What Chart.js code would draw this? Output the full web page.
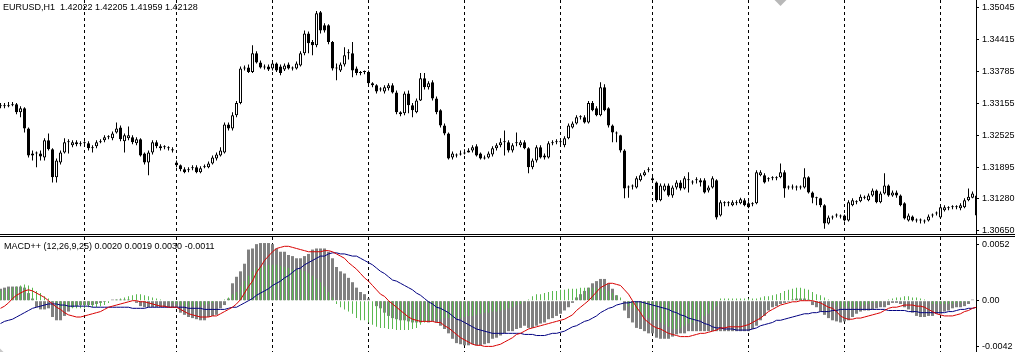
<!DOCTYPE html>
<html><head><meta charset="utf-8">
<script src="https://cdn.jsdelivr.net/npm/chart.js@4.4.1/dist/chart.umd.min.js"></script>
<style>
html,body{margin:0;padding:0;background:#fff;}
#wrap{position:relative;width:1015px;height:352px;overflow:hidden;background:#fff;}
.pane{position:absolute;left:0;width:1015px;}
.pane canvas{display:block;}
.sep{position:absolute;left:0;width:1015px;height:1px;background:#000;}
.lbl{position:absolute;font-family:"Liberation Sans",Arial,sans-serif;font-size:9px;line-height:9px;color:#000;white-space:pre;}
</style></head><body>
<div id="wrap">
 <div class="pane" style="top:0;height:234px"><canvas id="priceCanvas" width="1015" height="234"></canvas></div>
 <div class="sep" style="top:234px"></div>
 <div class="sep" style="top:236px"></div>
 <div class="pane" style="top:237px;height:115px"><canvas id="macdCanvas" width="1015" height="115"></canvas></div>
 <div class="lbl" style="left:3px;top:3px">EURUSD,H1  1.42022 1.42205 1.41959 1.42128</div>
 <div class="lbl" style="left:4px;top:242px">MACD++ (12,26,9,25) 0.0020 0.0019 0.0030 -0.0011</div>
</div>
<script>
// ---- EURUSD H1 candles (bar 0 = leftmost) ----
const open = [
1.3310,1.3312,1.3310,1.3312,1.3314,1.3298,1.3306,1.3266,1.3213,1.3217,
1.3217,1.3209,1.3243,1.3225,1.3170,1.3199,1.3219,1.3239,1.3233,1.3239,
1.3235,1.3237,1.3237,1.3227,1.3231,1.3239,1.3243,1.3249,1.3247,1.3258,
1.3268,1.3241,1.3247,1.3249,1.3237,1.3245,1.3217,1.3199,1.3219,1.3239,
1.3231,1.3229,1.3227,1.3225,1.3199,1.3194,1.3186,1.3184,1.3188,1.3190,
1.3180,1.3190,1.3190,1.3197,1.3207,1.3213,1.3219,1.3274,1.3266,1.3292,
1.3316,1.3384,1.3386,1.3377,1.3414,1.3396,1.3386,1.3388,1.3384,1.3394,
1.3388,1.3382,1.3392,1.3384,1.3384,1.3390,1.3414,1.3453,1.3436,1.3430,
1.3495,1.3469,1.3469,1.3436,1.3384,1.3380,1.3392,1.3414,1.3414,1.3384,
1.3375,1.3377,1.3377,1.3355,1.3351,1.3343,1.3339,1.3345,1.3351,1.3337,
1.3298,1.3296,1.3335,1.3312,1.3298,1.3321,1.3365,1.3347,1.3357,1.3325,
1.3302,1.3272,1.3256,1.3209,1.3213,1.3215,1.3217,1.3219,1.3223,1.3231,
1.3217,1.3207,1.3209,1.3215,1.3227,1.3233,1.3239,1.3239,1.3223,1.3237,
1.3233,1.3239,1.3227,1.3190,1.3203,1.3229,1.3213,1.3209,1.3237,1.3239,
1.3239,1.3233,1.3247,1.3268,1.3276,1.3288,1.3288,1.3278,1.3316,1.3306,
1.3292,1.3347,1.3306,1.3272,1.3256,1.3253,1.3223,1.3150,1.3152,1.3150,
1.3164,1.3174,1.3184,1.3168,1.3160,1.3125,1.3144,1.3154,1.3134,1.3150,
1.3160,1.3148,1.3164,1.3160,1.3164,1.3164,1.3164,1.3144,1.3150,1.3164,
1.3095,1.3119,1.3119,1.3115,1.3119,1.3119,1.3125,1.3119,1.3117,1.3119,
1.3174,1.3174,1.3166,1.3168,1.3168,1.3170,1.3180,1.3150,1.3150,1.3150,
1.3150,1.3150,1.3170,1.3140,1.3129,1.3129,1.3115,1.3079,1.3091,1.3095,
1.3093,1.3095,1.3085,1.3115,1.3121,1.3123,1.3130,1.3125,1.3134,1.3144,
1.3121,1.3138,1.3154,1.3134,1.3140,1.3134,1.3119,1.3085,1.3093,1.3085,
1.3085,1.3083,1.3085,1.3095,1.3099,1.3091,1.3105,1.3109,1.3111,1.3111,
1.3109,1.3111,1.3125,1.3130,1.3134];
const high = [
1.3316,1.3316,1.3318,1.3318,1.3316,1.3310,1.3308,1.3268,1.3223,1.3221,
1.3223,1.3247,1.3256,1.3227,1.3207,1.3223,1.3247,1.3245,1.3243,1.3243,
1.3241,1.3241,1.3241,1.3233,1.3243,1.3245,1.3253,1.3253,1.3260,1.3278,
1.3272,1.3256,1.3270,1.3253,1.3249,1.3247,1.3219,1.3223,1.3243,1.3243,
1.3235,1.3233,1.3231,1.3229,1.3203,1.3195,1.3190,1.3190,1.3194,1.3194,
1.3192,1.3195,1.3201,1.3213,1.3219,1.3229,1.3278,1.3278,1.3298,1.3320,
1.3388,1.3390,1.3392,1.3430,1.3418,1.3400,1.3392,1.3392,1.3398,1.3396,
1.3392,1.3394,1.3396,1.3388,1.3398,1.3418,1.3459,1.3457,1.3440,1.3497,
1.3497,1.3473,1.3471,1.3438,1.3394,1.3396,1.3426,1.3422,1.3436,1.3388,
1.3379,1.3380,1.3380,1.3357,1.3353,1.3347,1.3351,1.3355,1.3355,1.3341,
1.3300,1.3339,1.3341,1.3316,1.3325,1.3375,1.3375,1.3359,1.3361,1.3329,
1.3304,1.3276,1.3258,1.3221,1.3217,1.3223,1.3225,1.3227,1.3233,1.3235,
1.3219,1.3213,1.3221,1.3231,1.3237,1.3247,1.3262,1.3243,1.3237,1.3258,
1.3243,1.3243,1.3229,1.3207,1.3233,1.3233,1.3217,1.3241,1.3243,1.3245,
1.3245,1.3251,1.3276,1.3280,1.3292,1.3292,1.3292,1.3320,1.3320,1.3310,
1.3357,1.3353,1.3308,1.3274,1.3260,1.3254,1.3225,1.3154,1.3156,1.3172,
1.3178,1.3184,1.3190,1.3172,1.3162,1.3158,1.3158,1.3158,1.3154,1.3164,
1.3164,1.3172,1.3180,1.3164,1.3170,1.3168,1.3168,1.3154,1.3172,1.3166,
1.3125,1.3123,1.3123,1.3125,1.3125,1.3130,1.3129,1.3123,1.3121,1.3184,
1.3184,1.3178,1.3170,1.3172,1.3172,1.3197,1.3184,1.3154,1.3156,1.3154,
1.3154,1.3188,1.3172,1.3142,1.3132,1.3130,1.3117,1.3095,1.3095,1.3099,
1.3097,1.3097,1.3125,1.3129,1.3125,1.3136,1.3134,1.3138,1.3148,1.3146,
1.3142,1.3178,1.3156,1.3144,1.3144,1.3136,1.3121,1.3099,1.3095,1.3089,
1.3089,1.3087,1.3097,1.3099,1.3103,1.3115,1.3115,1.3113,1.3115,1.3115,
1.3119,1.3129,1.3148,1.3142,1.3140];
const low = [
1.3306,1.3306,1.3308,1.3310,1.3294,1.3288,1.3258,1.3209,1.3203,1.3190,
1.3203,1.3203,1.3223,1.3160,1.3160,1.3195,1.3217,1.3217,1.3229,1.3231,
1.3231,1.3233,1.3223,1.3219,1.3227,1.3237,1.3239,1.3245,1.3243,1.3256,
1.3241,1.3219,1.3243,1.3235,1.3233,1.3211,1.3195,1.3174,1.3215,1.3227,
1.3223,1.3225,1.3223,1.3219,1.3190,1.3182,1.3178,1.3180,1.3184,1.3178,
1.3178,1.3188,1.3188,1.3195,1.3203,1.3211,1.3217,1.3262,1.3262,1.3288,
1.3314,1.3380,1.3375,1.3375,1.3394,1.3384,1.3382,1.3379,1.3380,1.3377,
1.3371,1.3379,1.3382,1.3380,1.3382,1.3388,1.3410,1.3414,1.3410,1.3426,
1.3453,1.3455,1.3432,1.3380,1.3361,1.3377,1.3388,1.3402,1.3367,1.3371,
1.3371,1.3373,1.3351,1.3347,1.3335,1.3339,1.3335,1.3341,1.3335,1.3294,
1.3290,1.3292,1.3296,1.3288,1.3296,1.3320,1.3343,1.3343,1.3321,1.3294,
1.3268,1.3253,1.3205,1.3205,1.3209,1.3213,1.3215,1.3219,1.3219,1.3211,
1.3205,1.3205,1.3207,1.3211,1.3223,1.3229,1.3213,1.3219,1.3219,1.3231,
1.3229,1.3225,1.3178,1.3186,1.3199,1.3207,1.3205,1.3207,1.3233,1.3235,
1.3233,1.3229,1.3245,1.3266,1.3274,1.3284,1.3276,1.3276,1.3300,1.3290,
1.3290,1.3300,1.3268,1.3239,1.3239,1.3219,1.3129,1.3130,1.3146,1.3148,
1.3162,1.3172,1.3180,1.3160,1.3121,1.3123,1.3142,1.3132,1.3130,1.3146,
1.3144,1.3146,1.3140,1.3156,1.3158,1.3152,1.3138,1.3140,1.3148,1.3087,
1.3093,1.3113,1.3113,1.3113,1.3115,1.3117,1.3113,1.3109,1.3113,1.3117,
1.3172,1.3158,1.3162,1.3164,1.3164,1.3168,1.3130,1.3146,1.3146,1.3144,
1.3146,1.3148,1.3138,1.3119,1.3115,1.3111,1.3069,1.3077,1.3087,1.3091,
1.3089,1.3083,1.3083,1.3113,1.3117,1.3121,1.3127,1.3123,1.3132,1.3119,
1.3119,1.3136,1.3132,1.3132,1.3130,1.3113,1.3087,1.3083,1.3083,1.3081,
1.3079,1.3079,1.3083,1.3091,1.3095,1.3089,1.3103,1.3105,1.3107,1.3107,
1.3105,1.3109,1.3123,1.3129,1.3081];
const close = [
1.3312,1.3310,1.3312,1.3314,1.3298,1.3306,1.3266,1.3213,1.3217,1.3217,
1.3211,1.3243,1.3225,1.3170,1.3203,1.3219,1.3239,1.3239,1.3239,1.3235,
1.3237,1.3237,1.3227,1.3229,1.3239,1.3241,1.3249,1.3249,1.3256,1.3266,
1.3245,1.3253,1.3253,1.3239,1.3245,1.3213,1.3199,1.3219,1.3239,1.3231,
1.3227,1.3229,1.3227,1.3223,1.3194,1.3186,1.3180,1.3186,1.3190,1.3180,
1.3188,1.3192,1.3197,1.3209,1.3215,1.3223,1.3274,1.3266,1.3292,1.3316,
1.3384,1.3384,1.3377,1.3414,1.3396,1.3386,1.3386,1.3382,1.3394,1.3380,
1.3375,1.3390,1.3384,1.3384,1.3394,1.3414,1.3453,1.3434,1.3430,1.3493,
1.3459,1.3459,1.3436,1.3384,1.3384,1.3392,1.3410,1.3414,1.3380,1.3375,
1.3375,1.3377,1.3355,1.3351,1.3339,1.3343,1.3347,1.3351,1.3337,1.3298,
1.3294,1.3335,1.3312,1.3302,1.3321,1.3365,1.3347,1.3355,1.3325,1.3298,
1.3272,1.3256,1.3207,1.3217,1.3213,1.3217,1.3219,1.3223,1.3229,1.3213,
1.3207,1.3209,1.3217,1.3227,1.3233,1.3239,1.3239,1.3223,1.3233,1.3239,
1.3239,1.3227,1.3190,1.3203,1.3229,1.3209,1.3209,1.3237,1.3239,1.3239,
1.3239,1.3247,1.3272,1.3276,1.3288,1.3288,1.3278,1.3316,1.3302,1.3292,
1.3347,1.3302,1.3272,1.3258,1.3256,1.3223,1.3148,1.3150,1.3152,1.3168,
1.3174,1.3180,1.3184,1.3164,1.3125,1.3154,1.3154,1.3134,1.3150,1.3160,
1.3148,1.3168,1.3164,1.3160,1.3164,1.3160,1.3140,1.3150,1.3168,1.3091,
1.3121,1.3119,1.3119,1.3121,1.3119,1.3127,1.3115,1.3111,1.3117,1.3180,
1.3180,1.3160,1.3166,1.3168,1.3168,1.3180,1.3148,1.3150,1.3150,1.3150,
1.3150,1.3170,1.3140,1.3130,1.3129,1.3115,1.3079,1.3091,1.3091,1.3095,
1.3093,1.3085,1.3121,1.3125,1.3121,1.3132,1.3130,1.3134,1.3144,1.3121,
1.3138,1.3154,1.3134,1.3140,1.3134,1.3115,1.3089,1.3095,1.3085,1.3085,
1.3085,1.3083,1.3093,1.3095,1.3099,1.3111,1.3111,1.3109,1.3111,1.3111,
1.3115,1.3125,1.3132,1.3138,1.3095];

// ---- MACD++ (12,26,9,25) ----
const macdMain = [
0.0011,0.0012,0.0013,0.0013,0.0013,0.0013,0.0012,0.0007,0.0002,-0.0006,
-0.0008,-0.0008,-0.0007,-0.0015,-0.0018,-0.0018,-0.0014,-0.0010,-0.0006,-0.0005,
-0.0004,-0.0004,-0.0004,-0.0004,-0.0003,-0.0002,-0.0001,0,0.0001,0.0001,
0.0001,0.0001,0.0001,0,-0.0002,-0.0005,-0.0006,-0.0006,-0.0006,-0.0006,
-0.0006,-0.0006,-0.0006,-0.0006,-0.0006,-0.0011,-0.0013,-0.0015,-0.0016,-0.0017,
-0.0018,-0.0018,-0.0015,-0.0014,-0.0013,-0.0007,-0.0004,0.0002,0.0016,0.0022,
0.0027,0.0034,0.0047,0.0048,0.0052,0.0053,0.0053,0.0053,0.0052,0.0048,
0.0045,0.0045,0.0042,0.0041,0.0039,0.0039,0.0041,0.0043,0.0047,0.0048,
0.0048,0.0048,0.0045,0.0039,0.0031,0.0027,0.0025,0.0021,0.0017,0.0012,
0.0008,0.0006,0.0002,0,-0.0005,-0.0007,-0.0011,-0.0014,-0.0016,-0.0017,
-0.0018,-0.0018,-0.0019,-0.0020,-0.0020,-0.0020,-0.0019,-0.0020,-0.0019,-0.0020,
-0.0023,-0.0026,-0.0030,-0.0035,-0.0039,-0.0040,-0.0041,-0.0041,-0.0040,-0.0041,
-0.0041,-0.0040,-0.0039,-0.0035,-0.0034,-0.0032,-0.0030,-0.0028,-0.0028,-0.0026,
-0.0025,-0.0023,-0.0025,-0.0025,-0.0023,-0.0021,-0.0020,-0.0017,-0.0016,-0.0014,
-0.0012,-0.0009,-0.0006,-0.0002,0.0003,0.0006,0.0009,0.0012,0.0016,0.0018,
0.0020,0.0020,0.0016,0.0011,0.0005,0,-0.0009,-0.0016,-0.0020,-0.0025,
-0.0026,-0.0028,-0.0030,-0.0030,-0.0034,-0.0035,-0.0035,-0.0035,-0.0033,-0.0031,
-0.0030,-0.0030,-0.0028,-0.0028,-0.0028,-0.0028,-0.0028,-0.0028,-0.0028,-0.0028,
-0.0028,-0.0028,-0.0028,-0.0028,-0.0028,-0.0028,-0.0028,-0.0028,-0.0026,-0.0023,
-0.0018,-0.0014,-0.0009,-0.0006,-0.0005,-0.0003,-0.0002,-0.0001,0.0001,0.0002,
0.0002,0.0002,0.0001,-0.0004,-0.0006,-0.0010,-0.0013,-0.0016,-0.0018,-0.0019,
-0.0020,-0.0019,-0.0018,-0.0015,-0.0012,-0.0010,-0.0009,-0.0009,-0.0008,-0.0007,
-0.0006,-0.0006,-0.0004,-0.0002,-0.0002,-0.0003,-0.0006,-0.0008,-0.0011,-0.0014,
-0.0015,-0.0015,-0.0014,-0.0014,-0.0012,-0.0012,-0.0010,-0.0009,-0.0007,-0.0006,
-0.0006,-0.0005,-0.0003,0.0001,0];
const osma = [
0.0009,0.0010,0.0011,0.0012,0.0013,0.0014,0.0015,0.0014,0.0012,0.0009,
0.0007,0.0004,0.0002,-0.0001,-0.0004,-0.0006,-0.0006,-0.0007,-0.0007,-0.0007,
-0.0007,-0.0007,-0.0006,-0.0006,-0.0006,-0.0005,-0.0004,-0.0002,0,0.0001,
0.0002,0.0003,0.0004,0.0005,0.0006,0.0006,0.0005,0.0004,0.0003,0.0002,
0.0001,0,-0.0001,-0.0002,-0.0003,-0.0004,-0.0005,-0.0005,-0.0005,-0.0005,
-0.0005,-0.0004,-0.0003,-0.0002,-0.0001,0,0.0001,0.0003,0.0006,0.0008,
0.0013,0.0018,0.0023,0.0027,0.0030,0.0031,0.0032,0.0033,0.0033,0.0033,
0.0032,0.0031,0.0030,0.0029,0.0029,0.0028,0.0027,0.0025,0.0023,0.0020,
0.0017,0.0013,0.0008,0.0003,-0.0003,-0.0006,-0.0008,-0.0010,-0.0012,-0.0016,
-0.0018,-0.0018,-0.0020,-0.0022,-0.0024,-0.0025,-0.0025,-0.0026,-0.0026,-0.0027,
-0.0027,-0.0027,-0.0027,-0.0026,-0.0025,-0.0022,-0.0020,-0.0019,-0.0018,-0.0017,
-0.0017,-0.0016,-0.0016,-0.0016,-0.0016,-0.0016,-0.0015,-0.0014,-0.0014,-0.0013,
-0.0012,-0.0011,-0.0011,-0.0010,-0.0010,-0.0009,-0.0008,-0.0007,-0.0006,-0.0004,
-0.0003,-0.0001,0.0001,0.0004,0.0006,0.0006,0.0007,0.0008,0.0009,0.0009,
0.0010,0.0010,0.0011,0.0011,0.0011,0.0012,0.0012,0.0012,0.0012,0.0012,
0.0011,0.0011,0.0009,0.0007,0.0005,0.0003,0,-0.0005,-0.0007,-0.0009,
-0.0012,-0.0014,-0.0016,-0.0018,-0.0018,-0.0020,-0.0022,-0.0024,-0.0026,-0.0026,
-0.0025,-0.0023,-0.0021,-0.0020,-0.0018,-0.0017,-0.0014,-0.0012,-0.0009,-0.0005,
0.0002,0.0002,0.0002,0.0002,0.0002,0.0002,0.0002,0.0002,0.0002,0.0002,
0.0003,0.0004,0.0004,0.0005,0.0006,0.0007,0.0009,0.0010,0.0011,0.0012,
0.0012,0.0011,0.0010,0.0008,0.0006,0.0005,0.0003,0.0001,-0.0002,-0.0005,
-0.0006,-0.0006,-0.0006,-0.0006,-0.0006,-0.0005,-0.0004,-0.0003,-0.0002,-0.0002,
-0.0001,0,0.0001,0.0002,0.0003,0.0003,0.0004,0.0004,0.0003,0.0003,
0.0002,0.0001,0,-0.0003,-0.0003,-0.0003,-0.0003,-0.0003,-0.0003,-0.0002,
-0.0002,-0.0001,-0.0001,0,0];
const signal = [
-0.0007,-0.0005,-0.0002,0.0002,0.0005,0.0007,0.0009,0.0010,0.0009,0.0007,
0.0005,0.0003,0,-0.0003,-0.0006,-0.0008,-0.0011,-0.0013,-0.0014,-0.0015,
-0.0015,-0.0014,-0.0013,-0.0012,-0.0011,-0.0010,-0.0008,-0.0006,-0.0005,-0.0004,
-0.0003,-0.0002,-0.0001,0,0,-0.0001,-0.0001,-0.0002,-0.0003,-0.0004,
-0.0005,-0.0005,-0.0006,-0.0006,-0.0006,-0.0008,-0.0010,-0.0012,-0.0013,-0.0014,
-0.0015,-0.0015,-0.0015,-0.0014,-0.0014,-0.0012,-0.0010,-0.0008,-0.0006,-0.0003,
0.0001,0.0007,0.0013,0.0018,0.0026,0.0031,0.0037,0.0041,0.0045,0.0048,
0.0049,0.0050,0.0050,0.0049,0.0048,0.0047,0.0046,0.0045,0.0045,0.0045,
0.0045,0.0046,0.0046,0.0045,0.0043,0.0041,0.0039,0.0035,0.0032,0.0029,
0.0025,0.0021,0.0018,0.0014,0.0010,0.0006,0.0004,0,-0.0003,-0.0006,
-0.0009,-0.0012,-0.0015,-0.0017,-0.0018,-0.0019,-0.0019,-0.0019,-0.0019,-0.0020,
-0.0020,-0.0023,-0.0025,-0.0028,-0.0031,-0.0034,-0.0036,-0.0038,-0.0040,-0.0041,
-0.0041,-0.0042,-0.0042,-0.0042,-0.0041,-0.0040,-0.0038,-0.0036,-0.0034,-0.0031,
-0.0030,-0.0028,-0.0026,-0.0025,-0.0024,-0.0023,-0.0022,-0.0021,-0.0020,-0.0019,
-0.0018,-0.0017,-0.0015,-0.0013,-0.0009,-0.0006,-0.0003,0,0.0004,0.0008,
0.0012,0.0014,0.0016,0.0016,0.0015,0.0014,0.0010,0.0006,0,-0.0006,
-0.0011,-0.0017,-0.0020,-0.0023,-0.0025,-0.0026,-0.0028,-0.0030,-0.0031,-0.0032,
-0.0033,-0.0033,-0.0033,-0.0032,-0.0031,-0.0030,-0.0030,-0.0029,-0.0028,-0.0027,
-0.0025,-0.0025,-0.0024,-0.0024,-0.0024,-0.0024,-0.0023,-0.0022,-0.0020,-0.0018,
-0.0016,-0.0013,-0.0010,-0.0008,-0.0006,-0.0004,-0.0003,-0.0002,-0.0001,-0.0001,
0,0,0,0,-0.0001,-0.0002,-0.0004,-0.0006,-0.0007,-0.0010,
-0.0014,-0.0016,-0.0017,-0.0017,-0.0016,-0.0016,-0.0015,-0.0014,-0.0013,-0.0012,
-0.0011,-0.0009,-0.0007,-0.0006,-0.0006,-0.0005,-0.0004,-0.0004,-0.0004,-0.0005,
-0.0005,-0.0006,-0.0008,-0.0010,-0.0012,-0.0013,-0.0014,-0.0014,-0.0014,-0.0013,
-0.0012,-0.0010,-0.0009,-0.0007,-0.0006];
const slowSignal = [
-0.0021,-0.0019,-0.0018,-0.0017,-0.0015,-0.0013,-0.0011,-0.0009,-0.0007,-0.0006,
-0.0005,-0.0004,-0.0003,-0.0003,-0.0003,-0.0004,-0.0004,-0.0005,-0.0005,-0.0005,
-0.0005,-0.0005,-0.0005,-0.0006,-0.0006,-0.0006,-0.0006,-0.0006,-0.0006,-0.0006,
-0.0006,-0.0006,-0.0006,-0.0007,-0.0007,-0.0007,-0.0007,-0.0006,-0.0006,-0.0006,
-0.0006,-0.0006,-0.0006,-0.0006,-0.0006,-0.0006,-0.0006,-0.0007,-0.0007,-0.0007,
-0.0007,-0.0008,-0.0008,-0.0008,-0.0008,-0.0008,-0.0008,-0.0007,-0.0006,-0.0006,
-0.0004,-0.0002,0,0.0002,0.0005,0.0007,0.0009,0.0011,0.0014,0.0016,
0.0018,0.0021,0.0023,0.0026,0.0029,0.0030,0.0033,0.0035,0.0037,0.0039,
0.0041,0.0041,0.0043,0.0044,0.0044,0.0043,0.0043,0.0042,0.0041,0.0041,
0.0039,0.0037,0.0035,0.0033,0.0030,0.0027,0.0025,0.0022,0.0019,0.0018,
0.0016,0.0014,0.0012,0.0010,0.0007,0.0005,0.0002,-0.0001,-0.0003,-0.0006,
-0.0007,-0.0009,-0.0011,-0.0014,-0.0017,-0.0018,-0.0020,-0.0022,-0.0024,-0.0026,
-0.0027,-0.0028,-0.0029,-0.0030,-0.0030,-0.0030,-0.0030,-0.0030,-0.0030,-0.0030,
-0.0030,-0.0031,-0.0031,-0.0031,-0.0032,-0.0032,-0.0032,-0.0031,-0.0030,-0.0030,
-0.0029,-0.0028,-0.0026,-0.0024,-0.0023,-0.0021,-0.0019,-0.0018,-0.0016,-0.0014,
-0.0011,-0.0009,-0.0007,-0.0006,-0.0004,-0.0003,-0.0002,-0.0002,-0.0001,-0.0001,
-0.0001,-0.0002,-0.0003,-0.0004,-0.0005,-0.0006,-0.0007,-0.0008,-0.0010,-0.0011,
-0.0013,-0.0014,-0.0016,-0.0017,-0.0018,-0.0019,-0.0021,-0.0022,-0.0024,-0.0025,
-0.0025,-0.0026,-0.0026,-0.0026,-0.0027,-0.0027,-0.0027,-0.0027,-0.0026,-0.0025,
-0.0023,-0.0022,-0.0021,-0.0020,-0.0018,-0.0018,-0.0017,-0.0016,-0.0015,-0.0014,
-0.0013,-0.0012,-0.0012,-0.0011,-0.0011,-0.0010,-0.0010,-0.0010,-0.0009,-0.0009,
-0.0008,-0.0008,-0.0008,-0.0008,-0.0008,-0.0008,-0.0008,-0.0008,-0.0008,-0.0008,
-0.0008,-0.0008,-0.0009,-0.0009,-0.0009,-0.0009,-0.0009,-0.0010,-0.0010,-0.0010,
-0.0011,-0.0011,-0.0011,-0.0011,-0.0011,-0.0011,-0.0011,-0.0010,-0.0010,-0.0009,
-0.0008,-0.0008,-0.0007,-0.0007,-0.0006];

// ---- axes / separators / markers ----
const dayStartBars = [21, 44, 68, 92, 116, 140, 163, 187, 211, 235];
const priceTicks = [1.35045, 1.34415, 1.33785, 1.33155, 1.32525, 1.31895, 1.31280, 1.30650];
const macdTicks = [0.0052, 0, -0.0042];
const macdTickLabels = ['0.0052', '0.00', '-0.0042'];
const markerBars = [195];
const markerPrices = [1.3521];
const macdMarkerBars = [-0.5];
const macdMarkerValues = [-0.0049];

const lens = [open, high, low, close, macdMain, osma, signal, slowSignal].map(a => a.length);
if (lens.some(l => l !== lens[0])) throw new Error('length mismatch ' + lens.join(','));

const FONT = { family: "'Liberation Sans', Arial, sans-serif", size: 9 };
const idx = close.map((c, i) => i);

function xScale() {
  return {
    type: 'linear', min: -0.125, max: 243.875, offset: false,
    afterBuildTicks: s => { s.ticks = dayStartBars.map(v => ({ value: v })); },
    ticks: { display: false },
    grid: { display: true, color: '#000', lineWidth: 1, drawTicks: false, offset: false },
    border: { display: false, dash: [3, 3] }
  };
}
function yScale(min, max, ticks, label) {
  return {
    type: 'linear', position: 'right', min: min, max: max,
    afterBuildTicks: s => { s.ticks = ticks.map(v => ({ value: v })); },
    afterFit: s => { s.width = 39; s.paddingTop = 0; s.paddingBottom = 0; },
    ticks: { autoSkip: false, color: '#000', font: FONT, padding: 3, callback: label },
    grid: { drawOnChartArea: false, drawTicks: true, tickLength: 3, tickColor: '#000', tickWidth: 1 },
    border: { display: true, color: '#000', width: 1 }
  };
}
const common = {
  responsive: false, animation: false, devicePixelRatio: 1,
  layout: { padding: 0, autoPadding: false },
  plugins: { legend: { display: false }, tooltip: { enabled: false } }
};

new Chart(document.getElementById('priceCanvas'), {
  type: 'bar',
  data: {
    datasets: [
      { type: 'line', data: markerBars.map((b, k) => ({ x: b, y: markerPrices[k] })), showLine: false,
        pointStyle: 'rectRot', pointRadius: 7, pointBackgroundColor: '#b8b8b8', pointBorderWidth: 0, order: 0, clip: 0 },
      { data: idx.map(i => ({ x: i, y: [open[i], close[i]] })), barThickness: 3, borderWidth: 1,
        borderColor: '#000', borderSkipped: false, minBarLength: 1, grouped: false, inflateAmount: 0, order: 1, clip: 0,
        backgroundColor: c => (close[c.dataIndex] > open[c.dataIndex] ? '#fff' : '#000') },
      { data: idx.map(i => ({ x: i, y: [low[i], high[i]] })), barThickness: 1, borderWidth: 0,
        backgroundColor: '#000', grouped: false, inflateAmount: 0, order: 2, clip: 0 }
    ]
  },
  options: Object.assign({}, common, {
    scales: {
      x: xScale(),
      y: yScale(1.305850, 1.351886, priceTicks, v => v.toFixed(5))
    }
  })
});

new Chart(document.getElementById('macdCanvas'), {
  type: 'bar',
  data: {
    datasets: [
      { type: 'line', data: idx.map(i => ({ x: i, y: signal[i] })), borderColor: '#d80000', borderWidth: 1,
        pointRadius: 0, tension: 0, order: 0, clip: 0 },
      { type: 'line', data: idx.map(i => ({ x: i, y: slowSignal[i] })), borderColor: '#000080', borderWidth: 1,
        pointRadius: 0, tension: 0, order: 1, clip: 0 },
      { type: 'line', data: macdMarkerBars.map((b, k) => ({ x: b, y: macdMarkerValues[k] })), showLine: false,
        pointStyle: 'rectRot', pointRadius: 7, pointBackgroundColor: '#c8c8c8', pointBorderWidth: 0, order: 1, clip: 0 },
      { data: idx.map(i => ({ x: i, y: osma[i] })), barThickness: 1, borderWidth: 0, backgroundColor: 'rgb(90,185,80)',
        grouped: false, inflateAmount: 0, order: 2, clip: 0 },
      { data: idx.map(i => ({ x: i, y: macdMain[i] })), barThickness: 3, borderWidth: 0, backgroundColor: '#808080',
        grouped: false, inflateAmount: 0, order: 3, clip: 0 }
    ]
  },
  options: Object.assign({}, common, {
    scales: {
      x: xScale(),
      y: yScale(-0.004715, 0.005855, macdTicks, (v, k) => macdTickLabels[k])
    }
  })
});
</script>
</body></html>
